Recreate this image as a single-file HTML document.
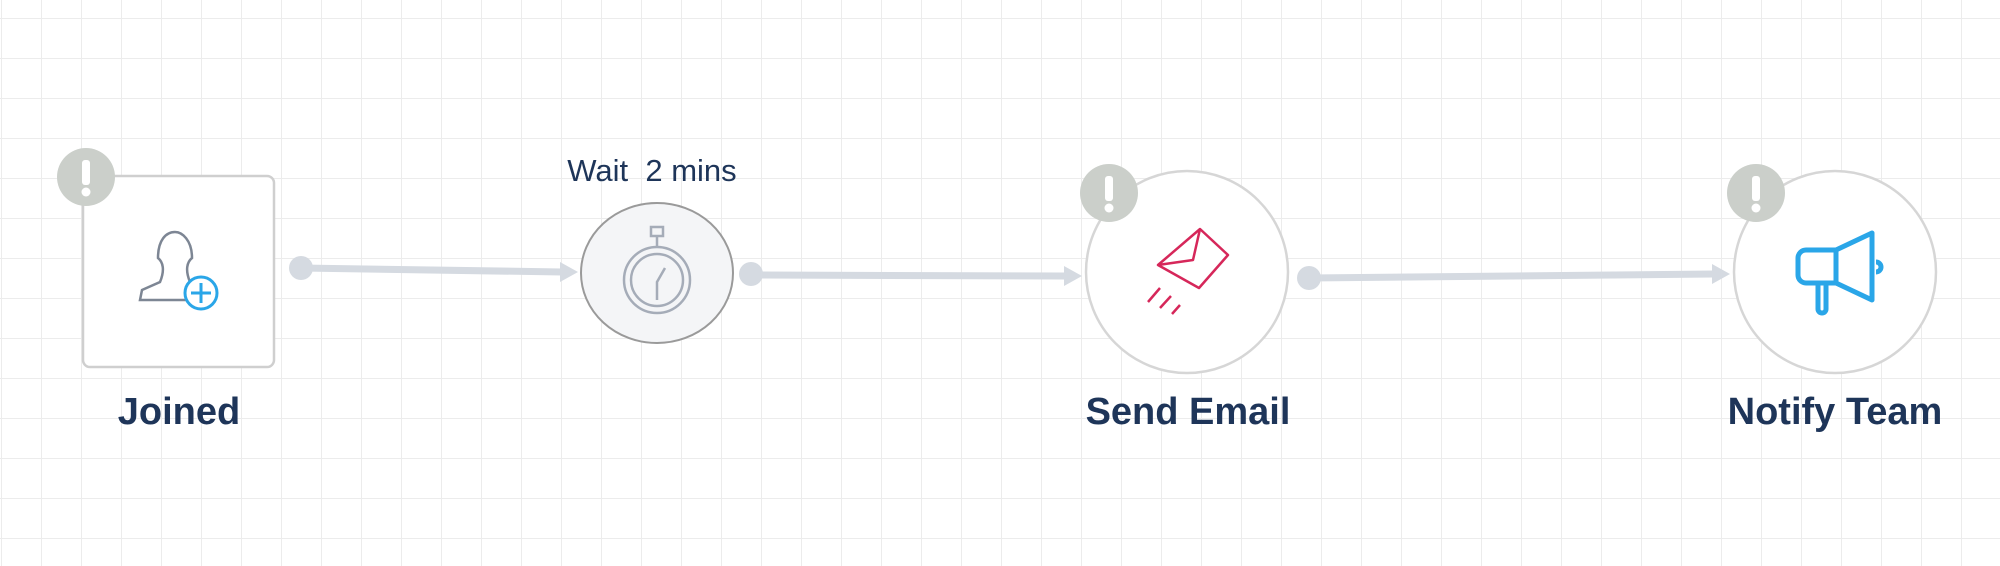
<!DOCTYPE html>
<html><head><style>
html,body{margin:0;padding:0;}
body{width:2000px;height:566px;overflow:hidden;background:#fff;
background-image:linear-gradient(#ececec 1px,transparent 1px),linear-gradient(90deg,#ececec 1px,transparent 1px);
background-size:40px 40px;background-position:0 18px,1px 0;}
svg{position:absolute;left:0;top:0;}
text{font-family:"Liberation Sans",sans-serif;}
</style></head><body>
<svg width="2000" height="566" viewBox="0 0 2000 566">
<g fill="#d5dae1" stroke="#d5dae1">
<circle cx="301" cy="268" r="12" stroke="none"/>
<line x1="301" y1="268" x2="562" y2="272" stroke-width="7"/>
<polygon points="560,262 578,272 560,282" stroke="none"/>
<circle cx="751" cy="274" r="12" stroke="none"/>
<line x1="751" y1="275" x2="1066" y2="276" stroke-width="7"/>
<polygon points="1064,266 1082,276 1064,286" stroke="none"/>
<circle cx="1309" cy="278" r="12" stroke="none"/>
<line x1="1309" y1="278" x2="1714" y2="274" stroke-width="7"/>
<polygon points="1712,264 1730,274 1712,284" stroke="none"/>
</g>
<rect x="83" y="176" width="191" height="191" rx="7" fill="#fff" stroke="#cfcfcf" stroke-width="2.5"/>
<g fill="none" stroke="#7d8694" stroke-width="2.5">
<path d="M190,282 C185,270 187,262 192,258 C192,240 182,232 175,232 C166,232 158,240 158,258 C163,262 165,270 160,282 L142,290 L140,300 L200,300"/>
</g>
<circle cx="201" cy="293" r="16" fill="#fff" stroke="#2aa6e8" stroke-width="3"/>
<path d="M201,283v20M191,293h20" stroke="#2aa6e8" stroke-width="3"/>
<text x="179" y="424" font-size="38" font-weight="bold" fill="#1e3559" text-anchor="middle">Joined</text>
<text x="652" y="181" font-size="31" fill="#1e3559" text-anchor="middle" xml:space="preserve">Wait  2 mins</text>
<ellipse cx="657" cy="273" rx="76" ry="70" fill="#f4f5f7" stroke="#9a9a9a" stroke-width="2"/>
<g fill="none" stroke="#a5acb8" stroke-width="2.5">
<circle cx="657" cy="280" r="33"/><circle cx="657" cy="280" r="26"/>
<rect x="651" y="227" width="12" height="9"/><path d="M657,236v11M657,300v-18l8-14"/>
</g>
<circle cx="1187" cy="272" r="101" fill="#fff" stroke="#d6d6d6" stroke-width="2.5"/>
<g fill="none" stroke="#d6275a" stroke-width="2.5" stroke-linejoin="round">
<path d="M1200,229 L1228,255 L1199,288 L1158,265 Z"/>
<path d="M1200,229 L1193,260 L1158,265"/>
<path d="M1148,302l12-14M1160,308l11-12M1172,314l8-9"/>
</g>
<text x="1188" y="424" font-size="38" font-weight="bold" fill="#1e3559" text-anchor="middle">Send Email</text>
<circle cx="1835" cy="272" r="101" fill="#fff" stroke="#d6d6d6" stroke-width="2.5"/>
<g fill="none" stroke="#2aa6e8" stroke-width="5" stroke-linejoin="round">
<path d="M1836,250 L1872,233 L1872,300 L1836,283 Z"/>
<path d="M1836,250 h-30 a8,8 0 0 0 -8,8 v17 a8,8 0 0 0 8,8 h30"/>
<path d="M1818,283 v26 a4,4 0 0 0 8,0 v-26"/>
<path d="M1876,262 a5,5 0 0 1 0,10"/>
</g>
<text x="1835" y="424" font-size="38" font-weight="bold" fill="#1e3559" text-anchor="middle">Notify Team</text>
<g fill="#cbcfca">
<circle cx="86" cy="177" r="29"/><circle cx="1109" cy="193" r="29"/><circle cx="1756" cy="193" r="29"/>
</g>
<g fill="#fff">
<rect x="82" y="160" width="8" height="25" rx="3"/><circle cx="86" cy="192" r="4.5"/>
<rect x="1105" y="176" width="8" height="25" rx="3"/><circle cx="1109" cy="208" r="4.5"/>
<rect x="1752" y="176" width="8" height="25" rx="3"/><circle cx="1756" cy="208" r="4.5"/>
</g>
</svg>
</body></html>
